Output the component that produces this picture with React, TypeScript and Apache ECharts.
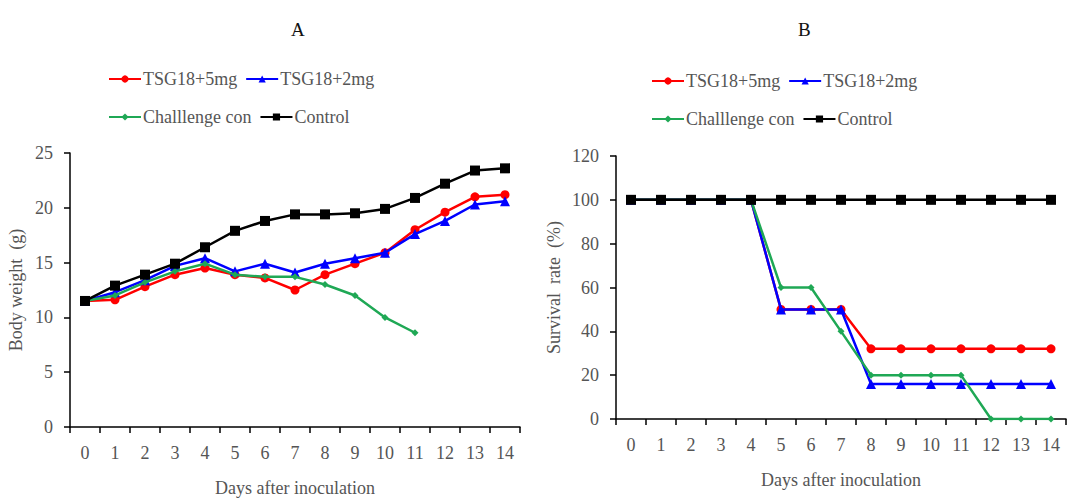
import React, { useEffect, useRef } from "react";
import * as echarts from "echarts";

const days = ["0", "1", "2", "3", "4", "5", "6", "7", "8", "9", "10", "11", "12", "13", "14"];
const seriesNames = ["TSG18+5mg", "TSG18+2mg", "Challlenge con", "Control"];

const weight5mg = [11.5, 11.6, 12.8, 13.9, 14.5, 13.9, 13.6, 12.5, 13.9, 14.9, 15.9, 18.0, 19.6, 21.0, 21.2];
const weight2mg = [11.5, 12.3, 13.4, 14.7, 15.4, 14.2, 14.9, 14.1, 14.9, 15.4, 15.9, 17.6, 18.8, 20.3, 20.6];
const weightChallenge = [11.5, 12.0, 13.2, 14.2, 14.9, 13.9, 13.7, 13.7, 13.0, 12.0, 10.0, 8.6];
const weightControl = [11.5, 12.9, 13.9, 14.9, 16.4, 17.9, 18.8, 19.4, 19.4, 19.5, 19.9, 20.9, 22.2, 23.4, 23.6];

const survival5mg = [100, 100, 100, 100, 100, 50, 50, 50, 32, 32, 32, 32, 32, 32, 32];
const survival2mg = [100, 100, 100, 100, 100, 50, 50, 50, 16, 16, 16, 16, 16, 16, 16];
const survivalChallenge = [100, 100, 100, 100, 100, 60, 60, 40, 20, 20, 20, 20, 0, 0, 0];
const survivalControl = [100, 100, 100, 100, 100, 100, 100, 100, 100, 100, 100, 100, 100, 100, 100];

const colors = ["#ff0000", "#0000ff", "#1fa855", "#000000"];
const symbols = ["circle", "triangle", "diamond", "rect"];
const symbolSizes = [9, 10, 7, 10];

const FONT = "Liberation Serif, Times New Roman, serif";
const GRAY = "#555555";

export default function App() {
  const ref = useRef<HTMLDivElement>(null);
  useEffect(() => {
    if (!ref.current) return;
    const chart = echarts.init(ref.current, null, { renderer: "svg" });
    const weights = [weight5mg, weight2mg, weightChallenge, weightControl];
    const survs = [survival5mg, survival2mg, survivalChallenge, survivalControl];

    const mkSeries = (data: number[], i: number, idx: number) => ({
      name: seriesNames[i],
      type: "line",
      xAxisIndex: idx,
      yAxisIndex: idx,
      data,
      color: colors[i],
      symbol: symbols[i],
      symbolSize: symbolSizes[i],
      showSymbol: true,
      lineStyle: { width: 2.5, color: colors[i] },
      itemStyle: { color: colors[i] },
      z: 2 + i,
    });

    const xAxisCommon = {
      type: "category",
      data: days,
      boundaryGap: true,
      axisLine: { lineStyle: { color: "#000", width: 1.5 } },
      axisTick: { show: true, length: 6, inside: false, alignWithLabel: false, lineStyle: { color: "#000", width: 1.5 } },
      axisLabel: { color: GRAY, fontFamily: FONT, fontSize: 18, margin: 17 },
      name: "Days after inoculation",
      nameLocation: "middle",
      nameTextStyle: { color: GRAY, fontFamily: FONT, fontSize: 18 },
      splitLine: { show: false },
    };
    const yAxisCommon = {
      type: "value",
      axisLine: { show: true, lineStyle: { color: "#000", width: 1.5 } },
      axisTick: { show: true, length: 6, lineStyle: { color: "#000", width: 1.5 } },
      axisLabel: { color: GRAY, fontFamily: FONT, fontSize: 18, margin: 17 },
      nameLocation: "middle",
      nameTextStyle: { color: GRAY, fontFamily: FONT, fontSize: 18 },
      splitLine: { show: false },
    };

    const legendCommon = {
      itemWidth: 32,
      itemHeight: 9,
      itemGap: 8,
      textStyle: { color: GRAY, fontFamily: FONT, fontSize: 18, padding: [0, 0, 0, -3] },
    };

    chart.setOption({
      animation: false,
      backgroundColor: "#ffffff",
      textStyle: { fontFamily: FONT },
      title: [
        { text: "A", left: 286, top: 15, textStyle: { fontFamily: FONT, fontSize: 19, fontWeight: "normal", color: "#111" } },
        { text: "B", left: 793, top: 15, textStyle: { fontFamily: FONT, fontSize: 19, fontWeight: "normal", color: "#111" } },
      ],
      legend: [
        { ...legendCommon, data: [seriesNames[0], seriesNames[1]], left: 103, top: 65 },
        { ...legendCommon, data: [seriesNames[2], seriesNames[3]], left: 103, top: 103 },
        { ...legendCommon, data: [seriesNames[0], seriesNames[1]], left: 646, top: 67 },
        { ...legendCommon, data: [seriesNames[2], seriesNames[3]], left: 646, top: 105 },
      ],
      grid: [
        { left: 70, top: 153, width: 450, height: 274, outerBoundsMode: "none", containLabel: false },
        { left: 616, top: 156, width: 450, height: 263, outerBoundsMode: "none", containLabel: false },
      ],
      xAxis: [
        { ...xAxisCommon, gridIndex: 0, nameGap: 52 },
        { ...xAxisCommon, gridIndex: 1, nameGap: 52 },
      ],
      yAxis: [
        { ...yAxisCommon, gridIndex: 0, min: 0, max: 25, interval: 5, name: "Body weight  (g)", nameGap: 45 },
        { ...yAxisCommon, gridIndex: 1, min: 0, max: 120, interval: 20, name: "Survival  rate  (%)", nameGap: 53 },
      ],
      series: [
        ...weights.map((d, i) => mkSeries(d, i, 0)),
        ...survs.map((d, i) => mkSeries(d, i, 1)),
      ],
    });
    return () => chart.dispose();
  }, []);
  return (
    <div
      ref={ref}
      style={{ position: "fixed", left: 0, top: 0, width: 1069, height: 499, background: "#fff" }}
    />
  );
}
